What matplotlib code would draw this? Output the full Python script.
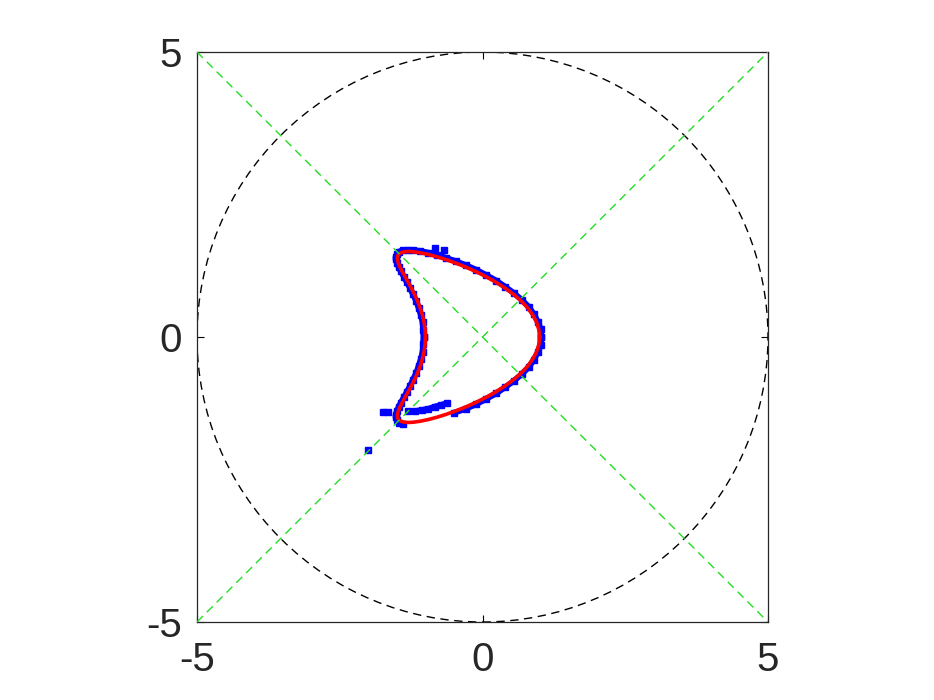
import matplotlib
matplotlib.use("Agg")
import matplotlib.pyplot as plt
from matplotlib.patches import Circle

plt.rcParams['font.family'] = ['Liberation Sans', 'DejaVu Sans']

# Reconstructed boundary (red), upper half (mirror-symmetric)
red_x_upper = [1.000, 0.986, 0.946, 0.879, 0.788, 0.674, 0.541, 0.392, 0.229, 0.057,
               -0.120, -0.299, -0.475, -0.645, -0.806, -0.954, -1.087, -1.203, -1.300,
               -1.377, -1.434, -1.472, -1.490, -1.490, -1.475, -1.446, -1.406, -1.357,
               -1.303, -1.247, -1.191, -1.139, -1.092, -1.053, -1.024, -1.006, -1.000]
red_y_upper = [0.000, 0.131, 0.261, 0.388, 0.513, 0.634, 0.750, 0.860, 0.964, 1.061,
               1.149, 1.229, 1.299, 1.360, 1.410, 1.449, 1.477, 1.494, 1.500,
               1.494, 1.477, 1.449, 1.410, 1.360, 1.299, 1.229, 1.149, 1.061,
               0.964, 0.860, 0.750, 0.634, 0.513, 0.388, 0.261, 0.131, 0.000]
red_x = red_x_upper + red_x_upper[-2::-1]
red_y = red_y_upper + [-v for v in red_y_upper[-2::-1]]

# Measured samples (blue), in runs along the boundary
blue_upper_x = [1.03, 1.02, 0.97, 0.90, 0.81, 0.69, 0.55, 0.40, 0.24, 0.06,
                -0.11, -0.29, -0.47, -0.64, -0.80, -0.95, -1.09, -1.21, -1.30,
                -1.39, -1.46, -1.50, -1.52, -1.52, -1.50, -1.47, -1.43, -1.38,
                -1.33, -1.27, -1.22, -1.16, -1.12, -1.08, -1.05, -1.04, -1.03]
blue_upper_y = [0.00, 0.14, 0.27, 0.40, 0.53, 0.65, 0.77, 0.88, 0.99, 1.09,
                1.18, 1.26, 1.33, 1.39, 1.44, 1.48, 1.51, 1.52, 1.53,
                1.52, 1.50, 1.46, 1.41, 1.36, 1.30, 1.23, 1.15, 1.06,
                0.97, 0.86, 0.75, 0.63, 0.51, 0.39, 0.26, 0.13, 0.00]
blue_lowleft_x = [-1.03, -1.04, -1.05, -1.08, -1.12, -1.16, -1.22, -1.27, -1.33, -1.38,
                  -1.43, -1.47, -1.50, -1.52, -1.52, -1.50, -1.46, -1.40]
blue_lowleft_y = [0.00, -0.13, -0.26, -0.39, -0.51, -0.63, -0.75, -0.86, -0.97, -1.06,
                  -1.15, -1.23, -1.30, -1.36, -1.41, -1.46, -1.50, -1.53]
blue_lowright_x = [-0.50, -0.29, -0.11, 0.06, 0.24, 0.40, 0.55, 0.69, 0.81, 0.90, 0.97, 1.02, 1.03]
blue_lowright_y = [-1.33, -1.26, -1.18, -1.09, -0.99, -0.88, -0.77, -0.65, -0.53, -0.40, -0.27, -0.14, 0.00]
streak_a_x = [-1.74, -1.66]
streak_a_y = [-1.31, -1.32]
streak_b_x = [-1.30, -1.18, -1.06, -0.95, -0.83, -0.72, -0.62]
streak_b_y = [-1.30, -1.30, -1.28, -1.26, -1.22, -1.19, -1.16]
outlier_x = [-0.83, -0.68, -2.00]
outlier_y = [1.56, 1.53, -1.98]

circle_radius = 5
diag_a_x = [-5, 5]
diag_a_y = [-5, 5]
diag_b_x = [-5, 5]
diag_b_y = [5, -5]
ticks = [-5, 0, 5]
tick_labels = ['-5', '0', '5']

fig = plt.figure(figsize=(9.34, 7.0), dpi=100)
ax = fig.add_axes([197/934, 78/700, 571/934, 570/700])

ax.add_patch(Circle((0, 0), circle_radius, fill=False, ls=(0, (6, 4)), lw=1.0,
                    color='black', zorder=2))

runs = [(blue_upper_x, blue_upper_y), (blue_lowleft_x, blue_lowleft_y),
        (blue_lowright_x, blue_lowright_y), (streak_a_x, streak_a_y),
        (streak_b_x, streak_b_y)]
for bx, by in runs:
    ax.plot(bx, by, color='blue', lw=4.2, marker='s', ms=4.0, mfc='blue',
            mec='blue', solid_capstyle='butt', zorder=3)
ax.plot(outlier_x, outlier_y, ls='none', marker='s', ms=4.2, mfc='blue',
        mec='blue', zorder=3)
ax.plot(red_x, red_y, color='red', lw=2.6, zorder=4)
ax.plot(diag_a_x, diag_a_y, ls=(0, (6, 4)), lw=1.0, color='#22dd22', zorder=5)
ax.plot(diag_b_x, diag_b_y, ls=(0, (6, 4)), lw=1.0, color='#22dd22', zorder=5)

ax.set_xlim(-5, 5)
ax.set_ylim(-5, 5)
ax.set_xticks(ticks)
ax.set_yticks(ticks)
ax.set_xticklabels(tick_labels)
ax.set_yticklabels(tick_labels)
ax.tick_params(direction='in', length=5, width=0.8, labelsize=29,
               labelcolor='#262626', top=True, right=True)
ax.tick_params(axis='x', pad=14)
ax.tick_params(axis='y', pad=11)
for s in ax.spines.values():
    s.set_linewidth(0.9)
    s.set_color('#262626')

fig.savefig('out.png', dpi=100)
